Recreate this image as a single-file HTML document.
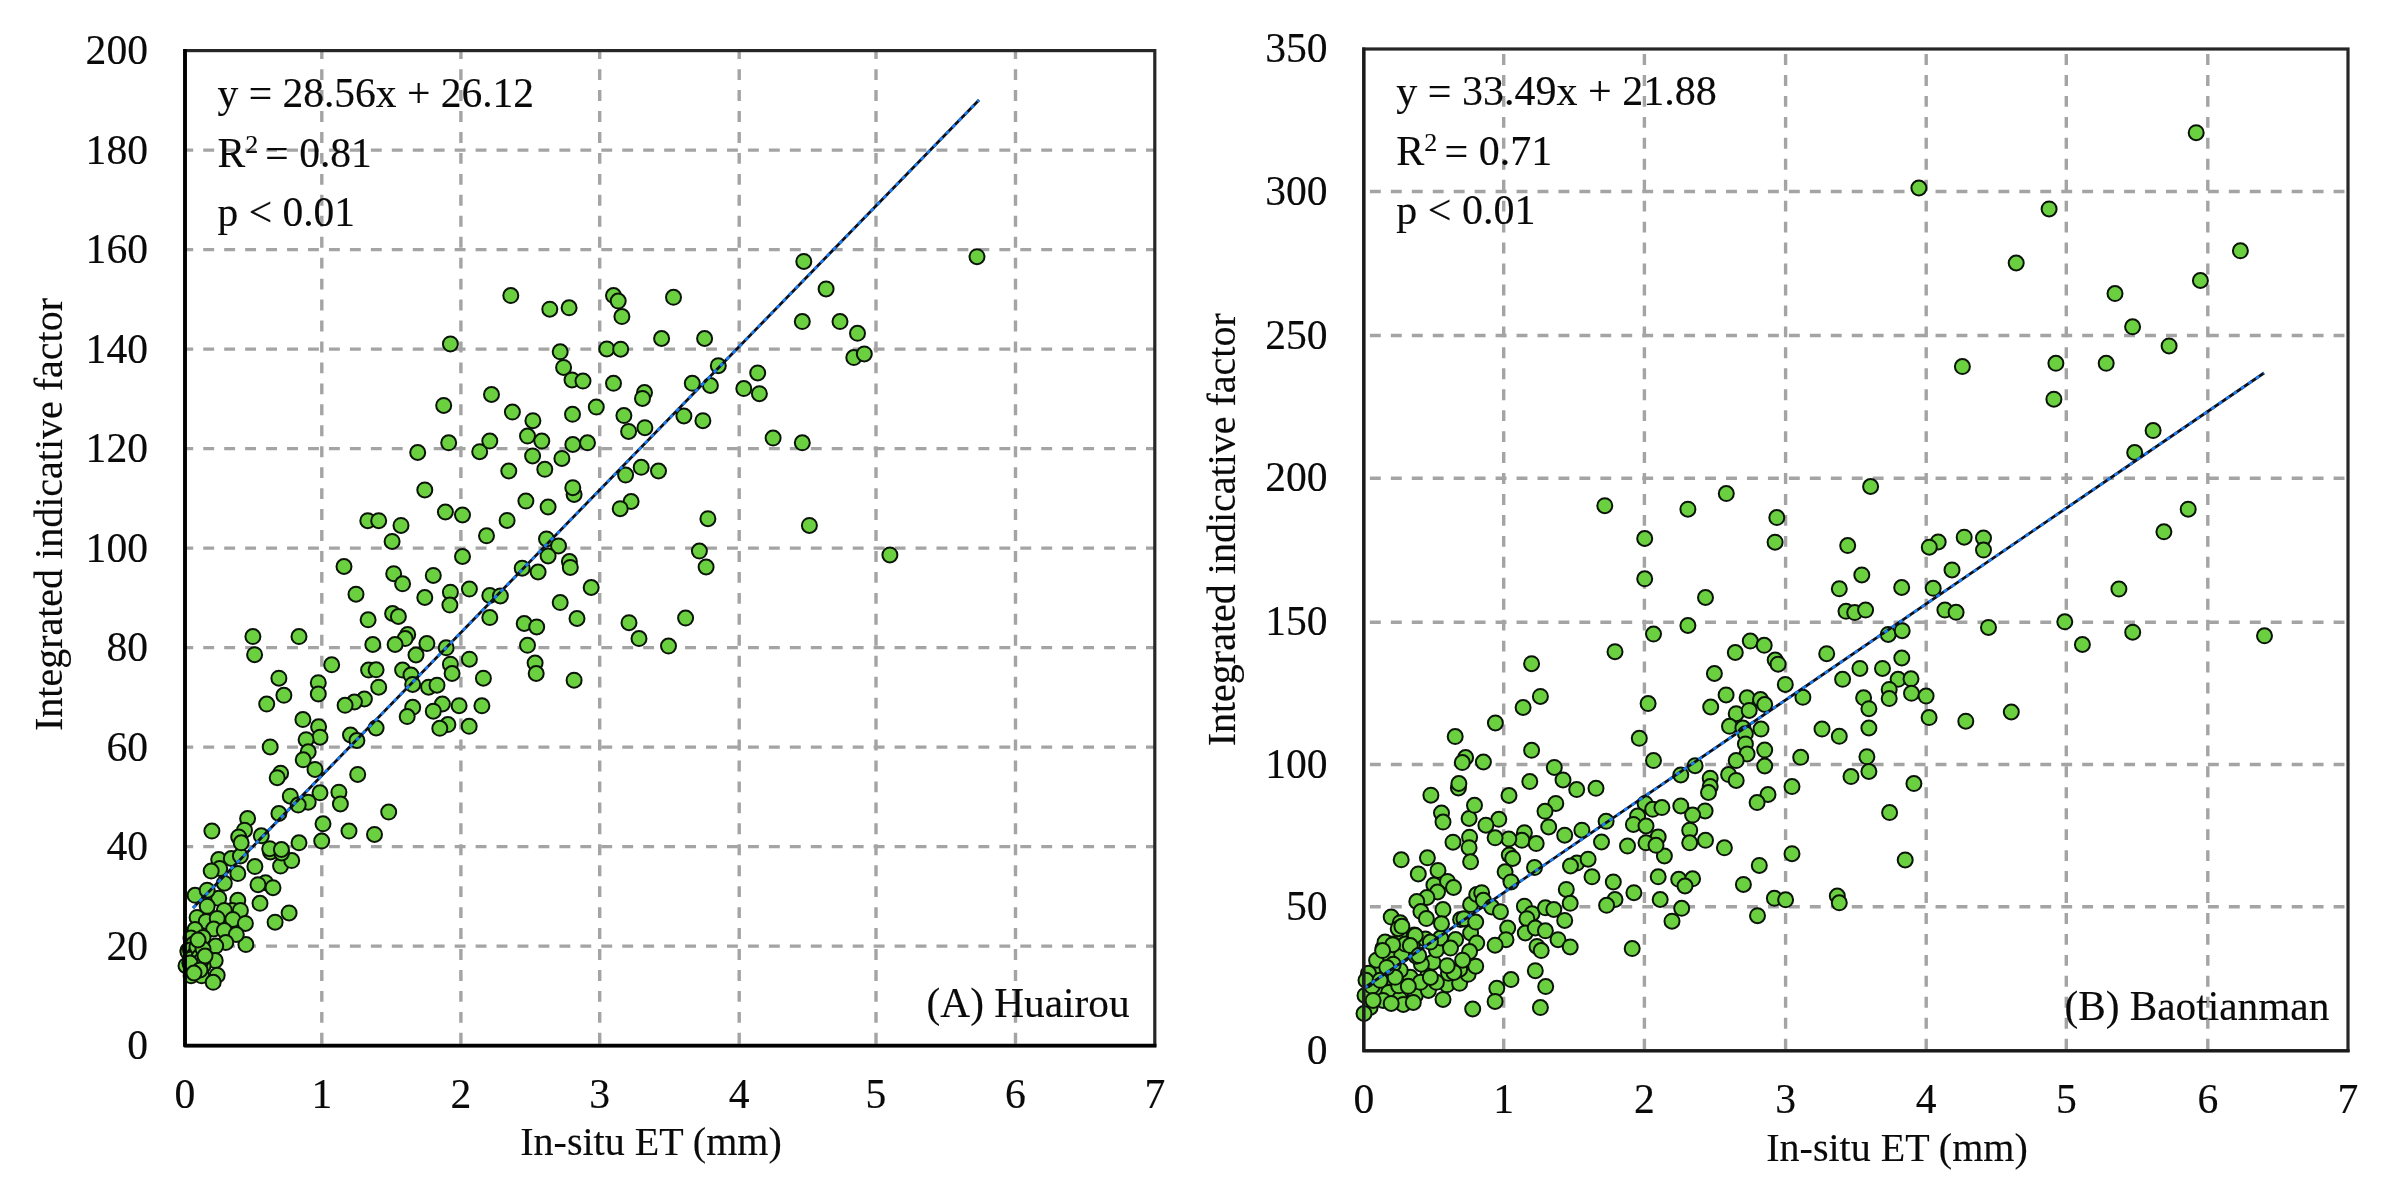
<!DOCTYPE html>
<html><head><meta charset="utf-8"><title>Scatter</title>
<style>
html,body{margin:0;padding:0;background:#fff;}
body{width:2398px;height:1193px;overflow:hidden;}
svg{display:block;}
#wrap{width:2398px;height:1193px;filter:blur(0.7px);}
text{font-family:"Liberation Serif",serif;fill:#0a0a0a;stroke:#0a0a0a;stroke-width:0.15px;}
.tk{font-size:41.6px;}
.eq{font-size:41.6px;}
.ax{font-size:40px;}
.g{stroke:#a4a4a4;stroke-width:3.4;stroke-dasharray:10.9 10.05;fill:none;}
.p circle{fill:#6bd040;stroke:#0a1406;stroke-width:2.0;}
</style></head><body><div id="wrap">
<svg width="2398" height="1193" viewBox="0 0 2398 1193">
<rect width="2398" height="1193" fill="#fff"/>
<path class="g" stroke-dashoffset="2.4" d="M321.8 50.6V1045.6"/>
<path class="g" stroke-dashoffset="2.4" d="M460.9 50.6V1045.6"/>
<path class="g" stroke-dashoffset="2.4" d="M599.7 50.6V1045.6"/>
<path class="g" stroke-dashoffset="2.4" d="M739.2 50.6V1045.6"/>
<path class="g" stroke-dashoffset="2.4" d="M876.0 50.6V1045.6"/>
<path class="g" stroke-dashoffset="2.4" d="M1015.5 50.6V1045.6"/>
<path class="g" stroke-dashoffset="2.7" d="M185.0 946.1H1154.8"/>
<path class="g" stroke-dashoffset="2.7" d="M185.0 846.6H1154.8"/>
<path class="g" stroke-dashoffset="2.7" d="M185.0 747.1H1154.8"/>
<path class="g" stroke-dashoffset="2.7" d="M185.0 647.6H1154.8"/>
<path class="g" stroke-dashoffset="2.7" d="M185.0 548.1H1154.8"/>
<path class="g" stroke-dashoffset="2.7" d="M185.0 448.6H1154.8"/>
<path class="g" stroke-dashoffset="2.7" d="M185.0 349.1H1154.8"/>
<path class="g" stroke-dashoffset="2.7" d="M185.0 249.6H1154.8"/>
<path class="g" stroke-dashoffset="2.7" d="M185.0 150.1H1154.8"/>
<g class="p">
<circle cx="254.9" cy="866.6" r="7.5"/>
<circle cx="265.5" cy="882.7" r="7.5"/>
<circle cx="273.0" cy="887.7" r="7.5"/>
<circle cx="258.0" cy="884.7" r="7.5"/>
<circle cx="260.0" cy="903.3" r="7.5"/>
<circle cx="289.1" cy="912.9" r="7.5"/>
<circle cx="275.1" cy="922.2" r="7.5"/>
<circle cx="245.9" cy="944.6" r="7.5"/>
<circle cx="280.6" cy="866.1" r="7.5"/>
<circle cx="291.7" cy="860.6" r="7.5"/>
<circle cx="270.5" cy="852.0" r="7.5"/>
<circle cx="281.6" cy="853.0" r="7.5"/>
<circle cx="237.8" cy="873.6" r="7.5"/>
<circle cx="224.3" cy="883.2" r="7.5"/>
<circle cx="218.7" cy="859.6" r="7.5"/>
<circle cx="231.3" cy="858.5" r="7.5"/>
<circle cx="219.7" cy="868.6" r="7.5"/>
<circle cx="211.2" cy="871.1" r="7.5"/>
<circle cx="240.4" cy="856.0" r="7.5"/>
<circle cx="195.1" cy="895.3" r="7.5"/>
<circle cx="218.7" cy="898.3" r="7.5"/>
<circle cx="237.8" cy="900.3" r="7.5"/>
<circle cx="207.2" cy="890.2" r="7.5"/>
<circle cx="232.3" cy="910.4" r="7.5"/>
<circle cx="224.3" cy="910.4" r="7.5"/>
<circle cx="240.4" cy="910.4" r="7.5"/>
<circle cx="207.2" cy="906.3" r="7.5"/>
<circle cx="197.1" cy="917.4" r="7.5"/>
<circle cx="206.2" cy="921.4" r="7.5"/>
<circle cx="217.2" cy="918.4" r="7.5"/>
<circle cx="232.8" cy="919.4" r="7.5"/>
<circle cx="245.4" cy="923.4" r="7.5"/>
<circle cx="213.7" cy="929.0" r="7.5"/>
<circle cx="224.3" cy="930.5" r="7.5"/>
<circle cx="195.1" cy="929.5" r="7.5"/>
<circle cx="236.3" cy="934.5" r="7.5"/>
<circle cx="203.1" cy="937.5" r="7.5"/>
<circle cx="225.8" cy="942.5" r="7.5"/>
<circle cx="215.7" cy="946.1" r="7.5"/>
<circle cx="193.1" cy="943.5" r="7.5"/>
<circle cx="188.0" cy="950.6" r="7.5"/>
<circle cx="200.1" cy="952.6" r="7.5"/>
<circle cx="215.2" cy="960.6" r="7.5"/>
<circle cx="192.1" cy="960.6" r="7.5"/>
<circle cx="186.0" cy="965.7" r="7.5"/>
<circle cx="203.1" cy="965.7" r="7.5"/>
<circle cx="191.1" cy="975.8" r="7.5"/>
<circle cx="201.6" cy="975.8" r="7.5"/>
<circle cx="217.2" cy="975.3" r="7.5"/>
<circle cx="213.2" cy="982.3" r="7.5"/>
<circle cx="190.1" cy="963.2" r="7.5"/>
<circle cx="188.0" cy="952.1" r="7.5"/>
<circle cx="200.1" cy="955.1" r="7.5"/>
<circle cx="254.6" cy="654.7" r="7.5"/>
<circle cx="331.7" cy="664.8" r="7.5"/>
<circle cx="278.9" cy="678.2" r="7.5"/>
<circle cx="318.3" cy="682.7" r="7.5"/>
<circle cx="318.3" cy="693.9" r="7.5"/>
<circle cx="283.9" cy="695.3" r="7.5"/>
<circle cx="266.7" cy="704.1" r="7.5"/>
<circle cx="364.4" cy="699.0" r="7.5"/>
<circle cx="354.4" cy="702.0" r="7.5"/>
<circle cx="345.1" cy="705.3" r="7.5"/>
<circle cx="368.6" cy="670.1" r="7.5"/>
<circle cx="376.1" cy="669.8" r="7.5"/>
<circle cx="378.7" cy="687.2" r="7.5"/>
<circle cx="302.9" cy="719.6" r="7.5"/>
<circle cx="318.6" cy="726.8" r="7.5"/>
<circle cx="320.0" cy="737.2" r="7.5"/>
<circle cx="306.1" cy="739.7" r="7.5"/>
<circle cx="308.2" cy="751.8" r="7.5"/>
<circle cx="303.2" cy="759.8" r="7.5"/>
<circle cx="270.2" cy="746.9" r="7.5"/>
<circle cx="350.5" cy="735.0" r="7.5"/>
<circle cx="356.9" cy="740.5" r="7.5"/>
<circle cx="376.1" cy="728.0" r="7.5"/>
<circle cx="315.0" cy="769.4" r="7.5"/>
<circle cx="280.6" cy="773.2" r="7.5"/>
<circle cx="277.2" cy="777.7" r="7.5"/>
<circle cx="357.7" cy="774.4" r="7.5"/>
<circle cx="320.0" cy="792.8" r="7.5"/>
<circle cx="338.9" cy="792.2" r="7.5"/>
<circle cx="340.4" cy="803.9" r="7.5"/>
<circle cx="290.3" cy="796.2" r="7.5"/>
<circle cx="308.2" cy="802.2" r="7.5"/>
<circle cx="298.2" cy="805.1" r="7.5"/>
<circle cx="278.9" cy="813.5" r="7.5"/>
<circle cx="247.6" cy="818.5" r="7.5"/>
<circle cx="323.0" cy="823.8" r="7.5"/>
<circle cx="211.9" cy="831.1" r="7.5"/>
<circle cx="349.0" cy="831.1" r="7.5"/>
<circle cx="374.5" cy="834.4" r="7.5"/>
<circle cx="244.5" cy="830.2" r="7.5"/>
<circle cx="238.7" cy="836.9" r="7.5"/>
<circle cx="241.2" cy="842.8" r="7.5"/>
<circle cx="261.3" cy="835.8" r="7.5"/>
<circle cx="299.0" cy="842.8" r="7.5"/>
<circle cx="321.7" cy="841.1" r="7.5"/>
<circle cx="269.7" cy="848.7" r="7.5"/>
<circle cx="281.4" cy="849.5" r="7.5"/>
<circle cx="416.0" cy="655.0" r="7.5"/>
<circle cx="469.4" cy="659.2" r="7.5"/>
<circle cx="450.4" cy="664.2" r="7.5"/>
<circle cx="452.1" cy="673.5" r="7.5"/>
<circle cx="402.6" cy="670.1" r="7.5"/>
<circle cx="411.0" cy="675.1" r="7.5"/>
<circle cx="412.7" cy="684.4" r="7.5"/>
<circle cx="428.6" cy="687.2" r="7.5"/>
<circle cx="437.0" cy="685.2" r="7.5"/>
<circle cx="483.4" cy="678.2" r="7.5"/>
<circle cx="535.1" cy="663.1" r="7.5"/>
<circle cx="536.2" cy="673.5" r="7.5"/>
<circle cx="574.1" cy="680.2" r="7.5"/>
<circle cx="412.7" cy="707.3" r="7.5"/>
<circle cx="407.2" cy="716.6" r="7.5"/>
<circle cx="442.4" cy="704.0" r="7.5"/>
<circle cx="433.3" cy="711.2" r="7.5"/>
<circle cx="459.1" cy="705.7" r="7.5"/>
<circle cx="481.9" cy="705.8" r="7.5"/>
<circle cx="447.9" cy="724.6" r="7.5"/>
<circle cx="439.8" cy="728.3" r="7.5"/>
<circle cx="469.2" cy="726.3" r="7.5"/>
<circle cx="388.7" cy="812.1" r="7.5"/>
<circle cx="417.7" cy="452.5" r="7.5"/>
<circle cx="479.7" cy="451.7" r="7.5"/>
<circle cx="532.6" cy="455.9" r="7.5"/>
<circle cx="561.9" cy="458.4" r="7.5"/>
<circle cx="544.8" cy="469.3" r="7.5"/>
<circle cx="508.8" cy="471.0" r="7.5"/>
<circle cx="424.8" cy="489.9" r="7.5"/>
<circle cx="574.1" cy="494.4" r="7.5"/>
<circle cx="572.8" cy="487.7" r="7.5"/>
<circle cx="525.9" cy="501.1" r="7.5"/>
<circle cx="548.1" cy="507.0" r="7.5"/>
<circle cx="445.4" cy="512.0" r="7.5"/>
<circle cx="462.5" cy="515.0" r="7.5"/>
<circle cx="507.1" cy="520.4" r="7.5"/>
<circle cx="401.0" cy="525.4" r="7.5"/>
<circle cx="392.1" cy="541.4" r="7.5"/>
<circle cx="486.5" cy="535.8" r="7.5"/>
<circle cx="546.5" cy="538.9" r="7.5"/>
<circle cx="558.5" cy="545.9" r="7.5"/>
<circle cx="548.1" cy="556.0" r="7.5"/>
<circle cx="462.5" cy="556.5" r="7.5"/>
<circle cx="569.4" cy="561.5" r="7.5"/>
<circle cx="570.3" cy="567.4" r="7.5"/>
<circle cx="522.2" cy="568.2" r="7.5"/>
<circle cx="538.1" cy="572.0" r="7.5"/>
<circle cx="393.7" cy="573.7" r="7.5"/>
<circle cx="402.6" cy="583.8" r="7.5"/>
<circle cx="433.3" cy="575.4" r="7.5"/>
<circle cx="469.4" cy="589.1" r="7.5"/>
<circle cx="450.4" cy="592.2" r="7.5"/>
<circle cx="449.9" cy="605.1" r="7.5"/>
<circle cx="424.8" cy="597.5" r="7.5"/>
<circle cx="489.8" cy="595.5" r="7.5"/>
<circle cx="500.4" cy="595.9" r="7.5"/>
<circle cx="560.2" cy="602.6" r="7.5"/>
<circle cx="392.6" cy="613.5" r="7.5"/>
<circle cx="398.4" cy="616.5" r="7.5"/>
<circle cx="489.8" cy="617.6" r="7.5"/>
<circle cx="577.0" cy="618.5" r="7.5"/>
<circle cx="524.2" cy="623.5" r="7.5"/>
<circle cx="536.7" cy="626.9" r="7.5"/>
<circle cx="407.7" cy="634.4" r="7.5"/>
<circle cx="405.1" cy="638.6" r="7.5"/>
<circle cx="426.9" cy="643.6" r="7.5"/>
<circle cx="395.1" cy="644.5" r="7.5"/>
<circle cx="527.5" cy="645.3" r="7.5"/>
<circle cx="446.2" cy="647.8" r="7.5"/>
<circle cx="367.8" cy="520.7" r="7.5"/>
<circle cx="378.7" cy="520.7" r="7.5"/>
<circle cx="344.0" cy="566.5" r="7.5"/>
<circle cx="356.0" cy="594.2" r="7.5"/>
<circle cx="368.1" cy="619.8" r="7.5"/>
<circle cx="252.9" cy="636.6" r="7.5"/>
<circle cx="299.0" cy="636.6" r="7.5"/>
<circle cx="372.8" cy="644.5" r="7.5"/>
<circle cx="510.8" cy="295.6" r="7.5"/>
<circle cx="549.8" cy="309.2" r="7.5"/>
<circle cx="569.1" cy="307.8" r="7.5"/>
<circle cx="450.4" cy="343.9" r="7.5"/>
<circle cx="560.2" cy="351.8" r="7.5"/>
<circle cx="563.6" cy="367.4" r="7.5"/>
<circle cx="572.0" cy="379.9" r="7.5"/>
<circle cx="491.5" cy="394.5" r="7.5"/>
<circle cx="443.7" cy="405.4" r="7.5"/>
<circle cx="512.4" cy="412.1" r="7.5"/>
<circle cx="532.9" cy="420.7" r="7.5"/>
<circle cx="572.5" cy="414.3" r="7.5"/>
<circle cx="527.5" cy="436.1" r="7.5"/>
<circle cx="541.8" cy="441.1" r="7.5"/>
<circle cx="489.8" cy="441.1" r="7.5"/>
<circle cx="448.7" cy="442.8" r="7.5"/>
<circle cx="572.8" cy="444.5" r="7.5"/>
<circle cx="613.5" cy="295.6" r="7.5"/>
<circle cx="618.2" cy="301.1" r="7.5"/>
<circle cx="621.9" cy="316.6" r="7.5"/>
<circle cx="673.5" cy="297.3" r="7.5"/>
<circle cx="661.6" cy="338.5" r="7.5"/>
<circle cx="704.6" cy="338.5" r="7.5"/>
<circle cx="606.8" cy="348.9" r="7.5"/>
<circle cx="620.7" cy="349.2" r="7.5"/>
<circle cx="583.0" cy="381.1" r="7.5"/>
<circle cx="613.5" cy="383.3" r="7.5"/>
<circle cx="718.3" cy="365.7" r="7.5"/>
<circle cx="692.3" cy="383.3" r="7.5"/>
<circle cx="710.4" cy="385.5" r="7.5"/>
<circle cx="757.7" cy="372.9" r="7.5"/>
<circle cx="743.8" cy="388.6" r="7.5"/>
<circle cx="759.4" cy="393.7" r="7.5"/>
<circle cx="644.5" cy="392.5" r="7.5"/>
<circle cx="642.5" cy="398.4" r="7.5"/>
<circle cx="596.3" cy="407.1" r="7.5"/>
<circle cx="623.9" cy="415.6" r="7.5"/>
<circle cx="683.9" cy="416.0" r="7.5"/>
<circle cx="702.9" cy="420.7" r="7.5"/>
<circle cx="644.9" cy="427.7" r="7.5"/>
<circle cx="628.6" cy="431.4" r="7.5"/>
<circle cx="773.1" cy="438.1" r="7.5"/>
<circle cx="587.5" cy="442.8" r="7.5"/>
<circle cx="803.8" cy="261.4" r="7.5"/>
<circle cx="826.1" cy="288.9" r="7.5"/>
<circle cx="802.3" cy="321.6" r="7.5"/>
<circle cx="840.0" cy="321.6" r="7.5"/>
<circle cx="857.5" cy="333.3" r="7.5"/>
<circle cx="853.8" cy="357.6" r="7.5"/>
<circle cx="864.3" cy="353.9" r="7.5"/>
<circle cx="977.0" cy="256.7" r="7.5"/>
<circle cx="802.3" cy="442.8" r="7.5"/>
<circle cx="625.6" cy="475.1" r="7.5"/>
<circle cx="641.2" cy="467.3" r="7.5"/>
<circle cx="658.5" cy="471.0" r="7.5"/>
<circle cx="631.1" cy="501.5" r="7.5"/>
<circle cx="620.2" cy="508.7" r="7.5"/>
<circle cx="707.9" cy="518.7" r="7.5"/>
<circle cx="699.4" cy="551.1" r="7.5"/>
<circle cx="706.1" cy="567.0" r="7.5"/>
<circle cx="591.2" cy="587.5" r="7.5"/>
<circle cx="685.6" cy="618.1" r="7.5"/>
<circle cx="629.0" cy="622.7" r="7.5"/>
<circle cx="639.0" cy="638.6" r="7.5"/>
<circle cx="668.5" cy="646.1" r="7.5"/>
<circle cx="809.4" cy="525.4" r="7.5"/>
<circle cx="889.9" cy="554.9" r="7.5"/>
<circle cx="191.0" cy="938.0" r="7.5"/>
<circle cx="193.5" cy="944.0" r="7.5"/>
<circle cx="190.5" cy="950.0" r="7.5"/>
<circle cx="195.0" cy="954.0" r="7.5"/>
<circle cx="191.0" cy="959.0" r="7.5"/>
<circle cx="197.0" cy="947.0" r="7.5"/>
<circle cx="199.0" cy="957.0" r="7.5"/>
<circle cx="196.0" cy="964.0" r="7.5"/>
<circle cx="192.0" cy="969.0" r="7.5"/>
<circle cx="201.0" cy="961.0" r="7.5"/>
<circle cx="203.0" cy="949.0" r="7.5"/>
<circle cx="205.0" cy="956.0" r="7.5"/>
<circle cx="190.0" cy="963.0" r="7.5"/>
<circle cx="200.0" cy="970.0" r="7.5"/>
<circle cx="194.0" cy="973.0" r="7.5"/>
<circle cx="198.0" cy="940.0" r="7.5"/>
</g>
<path d="M193.0 908.0L979.0 100.0" stroke="#0b0f1c" stroke-width="2.8" fill="none"/>
<path d="M193.0 908.0L979.0 100.0" stroke="#1c7cf0" stroke-width="2.8" stroke-dasharray="4 5" fill="none"/>
<rect x="185.0" y="50.6" width="969.8" height="995.0" fill="none" stroke="#262626" stroke-width="3.2"/>
<path d="M185.0 49.0V1045.6H1156.4" fill="none" stroke="#000" stroke-width="3.8" stroke-linejoin="round"/>
<text class="tk" x="185.0" y="1107.6" text-anchor="middle">0</text>
<text class="tk" x="321.8" y="1107.6" text-anchor="middle">1</text>
<text class="tk" x="460.9" y="1107.6" text-anchor="middle">2</text>
<text class="tk" x="599.7" y="1107.6" text-anchor="middle">3</text>
<text class="tk" x="739.2" y="1107.6" text-anchor="middle">4</text>
<text class="tk" x="876.0" y="1107.6" text-anchor="middle">5</text>
<text class="tk" x="1015.5" y="1107.6" text-anchor="middle">6</text>
<text class="tk" x="1154.8" y="1107.6" text-anchor="middle">7</text>
<text class="tk" x="148.0" y="1059.1" text-anchor="end">0</text>
<text class="tk" x="148.0" y="959.6" text-anchor="end">20</text>
<text class="tk" x="148.0" y="860.1" text-anchor="end">40</text>
<text class="tk" x="148.0" y="760.6" text-anchor="end">60</text>
<text class="tk" x="148.0" y="661.1" text-anchor="end">80</text>
<text class="tk" x="148.0" y="561.6" text-anchor="end">100</text>
<text class="tk" x="148.0" y="462.1" text-anchor="end">120</text>
<text class="tk" x="148.0" y="362.6" text-anchor="end">140</text>
<text class="tk" x="148.0" y="263.1" text-anchor="end">160</text>
<text class="tk" x="148.0" y="163.6" text-anchor="end">180</text>
<text class="tk" x="148.0" y="64.1" text-anchor="end">200</text>
<text class="eq" style="font-size:41.5px" x="217.5" y="106.6">y = 28.56x + 26.12</text>
<text class="eq" style="font-size:41.5px" x="217.5" y="166.6">R<tspan dy="-14" font-size="26">2</tspan><tspan dy="14" dx="-3.2"> = 0.81</tspan></text>
<text class="eq" style="font-size:41.5px" x="217.5" y="225.6">p &lt; 0.01</text>
<text class="eq" style="font-size:41.3px" x="1129.6" y="1017.0" text-anchor="end">(A) Huairou</text>
<text class="ax" transform="translate(61.5 514.5) rotate(-90)" text-anchor="middle">Integrated indicative factor</text>
<text class="ax" x="651.0" y="1155.0" text-anchor="middle">In-situ ET (mm)</text>
<path class="g" stroke-dashoffset="19.75" d="M1503.7 1050.8V49.0"/>
<path class="g" stroke-dashoffset="19.75" d="M1644.4 1050.8V49.0"/>
<path class="g" stroke-dashoffset="19.75" d="M1785.6 1050.8V49.0"/>
<path class="g" stroke-dashoffset="19.75" d="M1926.2 1050.8V49.0"/>
<path class="g" stroke-dashoffset="19.75" d="M2066.3 1050.8V49.0"/>
<path class="g" stroke-dashoffset="19.75" d="M2207.8 1050.8V49.0"/>
<path class="g" stroke-dashoffset="17.45" d="M2348.0 906.8H1363.8"/>
<path class="g" stroke-dashoffset="17.45" d="M2348.0 764.5H1363.8"/>
<path class="g" stroke-dashoffset="17.45" d="M2348.0 622.3H1363.8"/>
<path class="g" stroke-dashoffset="17.45" d="M2348.0 478.2H1363.8"/>
<path class="g" stroke-dashoffset="17.45" d="M2348.0 335.5H1363.8"/>
<path class="g" stroke-dashoffset="17.45" d="M2348.0 191.5H1363.8"/>
<g class="p">
<circle cx="1370.1" cy="1007.5" r="7.5"/>
<circle cx="1364.0" cy="1013.5" r="7.5"/>
<circle cx="1365.0" cy="995.4" r="7.5"/>
<circle cx="1377.6" cy="993.4" r="7.5"/>
<circle cx="1388.7" cy="992.4" r="7.5"/>
<circle cx="1399.7" cy="998.9" r="7.5"/>
<circle cx="1415.3" cy="995.4" r="7.5"/>
<circle cx="1403.3" cy="1004.4" r="7.5"/>
<circle cx="1413.3" cy="1002.4" r="7.5"/>
<circle cx="1443.0" cy="999.4" r="7.5"/>
<circle cx="1472.7" cy="1009.0" r="7.5"/>
<circle cx="1428.4" cy="990.4" r="7.5"/>
<circle cx="1398.7" cy="985.8" r="7.5"/>
<circle cx="1447.0" cy="984.8" r="7.5"/>
<circle cx="1459.6" cy="983.3" r="7.5"/>
<circle cx="1468.1" cy="974.3" r="7.5"/>
<circle cx="1459.6" cy="969.2" r="7.5"/>
<circle cx="1475.7" cy="966.2" r="7.5"/>
<circle cx="1448.5" cy="973.3" r="7.5"/>
<circle cx="1427.9" cy="974.8" r="7.5"/>
<circle cx="1389.2" cy="977.3" r="7.5"/>
<circle cx="1377.6" cy="972.2" r="7.5"/>
<circle cx="1368.5" cy="973.3" r="7.5"/>
<circle cx="1376.6" cy="960.2" r="7.5"/>
<circle cx="1389.2" cy="955.1" r="7.5"/>
<circle cx="1401.7" cy="955.1" r="7.5"/>
<circle cx="1432.9" cy="962.2" r="7.5"/>
<circle cx="1421.4" cy="964.2" r="7.5"/>
<circle cx="1410.3" cy="977.3" r="7.5"/>
<circle cx="1436.4" cy="950.1" r="7.5"/>
<circle cx="1412.3" cy="946.1" r="7.5"/>
<circle cx="1401.7" cy="938.0" r="7.5"/>
<circle cx="1392.2" cy="944.1" r="7.5"/>
<circle cx="1414.3" cy="935.0" r="7.5"/>
<circle cx="1455.6" cy="939.6" r="7.5"/>
<circle cx="1470.6" cy="933.0" r="7.5"/>
<circle cx="1476.7" cy="943.1" r="7.5"/>
<circle cx="1469.6" cy="951.6" r="7.5"/>
<circle cx="1383.1" cy="948.1" r="7.5"/>
<circle cx="1425.4" cy="939.1" r="7.5"/>
<circle cx="1440.5" cy="938.0" r="7.5"/>
<circle cx="1441.5" cy="813.0" r="7.5"/>
<circle cx="1443.0" cy="822.1" r="7.5"/>
<circle cx="1469.1" cy="818.5" r="7.5"/>
<circle cx="1453.0" cy="842.2" r="7.5"/>
<circle cx="1469.6" cy="837.2" r="7.5"/>
<circle cx="1469.1" cy="847.7" r="7.5"/>
<circle cx="1470.6" cy="861.8" r="7.5"/>
<circle cx="1401.2" cy="859.8" r="7.5"/>
<circle cx="1427.4" cy="857.8" r="7.5"/>
<circle cx="1438.0" cy="870.4" r="7.5"/>
<circle cx="1418.3" cy="873.9" r="7.5"/>
<circle cx="1433.9" cy="884.9" r="7.5"/>
<circle cx="1447.5" cy="881.4" r="7.5"/>
<circle cx="1453.5" cy="887.5" r="7.5"/>
<circle cx="1437.5" cy="892.0" r="7.5"/>
<circle cx="1426.9" cy="897.5" r="7.5"/>
<circle cx="1416.8" cy="901.5" r="7.5"/>
<circle cx="1420.9" cy="911.6" r="7.5"/>
<circle cx="1443.0" cy="909.6" r="7.5"/>
<circle cx="1426.4" cy="918.6" r="7.5"/>
<circle cx="1391.2" cy="917.1" r="7.5"/>
<circle cx="1400.2" cy="922.7" r="7.5"/>
<circle cx="1441.5" cy="923.7" r="7.5"/>
<circle cx="1470.6" cy="904.6" r="7.5"/>
<circle cx="1476.7" cy="894.5" r="7.5"/>
<circle cx="1398.2" cy="928.7" r="7.5"/>
<circle cx="1460.6" cy="919.6" r="7.5"/>
<circle cx="1509.3" cy="855.0" r="7.5"/>
<circle cx="1512.7" cy="858.4" r="7.5"/>
<circle cx="1505.1" cy="871.8" r="7.5"/>
<circle cx="1511.0" cy="881.9" r="7.5"/>
<circle cx="1534.5" cy="867.6" r="7.5"/>
<circle cx="1576.9" cy="863.1" r="7.5"/>
<circle cx="1570.5" cy="865.9" r="7.5"/>
<circle cx="1588.1" cy="859.2" r="7.5"/>
<circle cx="1592.0" cy="876.8" r="7.5"/>
<circle cx="1613.3" cy="881.9" r="7.5"/>
<circle cx="1566.3" cy="889.4" r="7.5"/>
<circle cx="1570.2" cy="903.3" r="7.5"/>
<circle cx="1615.0" cy="899.5" r="7.5"/>
<circle cx="1606.6" cy="905.3" r="7.5"/>
<circle cx="1633.9" cy="892.7" r="7.5"/>
<circle cx="1658.2" cy="876.8" r="7.5"/>
<circle cx="1660.2" cy="899.5" r="7.5"/>
<circle cx="1664.4" cy="855.9" r="7.5"/>
<circle cx="1678.7" cy="879.3" r="7.5"/>
<circle cx="1672.0" cy="921.2" r="7.5"/>
<circle cx="1481.7" cy="892.7" r="7.5"/>
<circle cx="1483.4" cy="900.3" r="7.5"/>
<circle cx="1491.7" cy="907.0" r="7.5"/>
<circle cx="1500.5" cy="911.7" r="7.5"/>
<circle cx="1524.4" cy="906.2" r="7.5"/>
<circle cx="1532.0" cy="913.7" r="7.5"/>
<circle cx="1526.9" cy="918.7" r="7.5"/>
<circle cx="1545.4" cy="907.8" r="7.5"/>
<circle cx="1553.8" cy="909.5" r="7.5"/>
<circle cx="1564.7" cy="920.4" r="7.5"/>
<circle cx="1507.7" cy="928.0" r="7.5"/>
<circle cx="1525.3" cy="933.0" r="7.5"/>
<circle cx="1535.3" cy="928.0" r="7.5"/>
<circle cx="1545.4" cy="930.8" r="7.5"/>
<circle cx="1506.0" cy="939.7" r="7.5"/>
<circle cx="1495.1" cy="945.2" r="7.5"/>
<circle cx="1558.0" cy="939.7" r="7.5"/>
<circle cx="1570.2" cy="946.9" r="7.5"/>
<circle cx="1537.0" cy="946.4" r="7.5"/>
<circle cx="1541.2" cy="950.6" r="7.5"/>
<circle cx="1632.2" cy="948.6" r="7.5"/>
<circle cx="1535.3" cy="970.7" r="7.5"/>
<circle cx="1511.0" cy="979.6" r="7.5"/>
<circle cx="1496.8" cy="988.3" r="7.5"/>
<circle cx="1545.7" cy="986.6" r="7.5"/>
<circle cx="1495.1" cy="1001.4" r="7.5"/>
<circle cx="1540.4" cy="1007.6" r="7.5"/>
<circle cx="1531.6" cy="663.7" r="7.5"/>
<circle cx="1615.0" cy="651.7" r="7.5"/>
<circle cx="1540.4" cy="696.4" r="7.5"/>
<circle cx="1523.1" cy="707.5" r="7.5"/>
<circle cx="1495.4" cy="722.9" r="7.5"/>
<circle cx="1648.1" cy="703.6" r="7.5"/>
<circle cx="1639.3" cy="738.3" r="7.5"/>
<circle cx="1531.6" cy="750.3" r="7.5"/>
<circle cx="1483.4" cy="762.0" r="7.5"/>
<circle cx="1653.5" cy="760.6" r="7.5"/>
<circle cx="1554.3" cy="767.4" r="7.5"/>
<circle cx="1563.0" cy="779.9" r="7.5"/>
<circle cx="1576.7" cy="789.6" r="7.5"/>
<circle cx="1596.0" cy="788.3" r="7.5"/>
<circle cx="1529.8" cy="781.6" r="7.5"/>
<circle cx="1509.0" cy="795.5" r="7.5"/>
<circle cx="1555.8" cy="803.4" r="7.5"/>
<circle cx="1545.0" cy="811.3" r="7.5"/>
<circle cx="1498.8" cy="819.3" r="7.5"/>
<circle cx="1485.9" cy="825.2" r="7.5"/>
<circle cx="1548.7" cy="826.9" r="7.5"/>
<circle cx="1564.7" cy="835.2" r="7.5"/>
<circle cx="1581.9" cy="830.2" r="7.5"/>
<circle cx="1606.1" cy="821.3" r="7.5"/>
<circle cx="1601.5" cy="842.0" r="7.5"/>
<circle cx="1524.4" cy="832.7" r="7.5"/>
<circle cx="1521.9" cy="840.3" r="7.5"/>
<circle cx="1508.8" cy="839.1" r="7.5"/>
<circle cx="1495.1" cy="837.8" r="7.5"/>
<circle cx="1536.2" cy="843.6" r="7.5"/>
<circle cx="1627.5" cy="846.1" r="7.5"/>
<circle cx="1645.1" cy="803.4" r="7.5"/>
<circle cx="1652.7" cy="809.3" r="7.5"/>
<circle cx="1661.9" cy="807.6" r="7.5"/>
<circle cx="1637.6" cy="816.0" r="7.5"/>
<circle cx="1633.4" cy="824.4" r="7.5"/>
<circle cx="1646.0" cy="826.0" r="7.5"/>
<circle cx="1658.2" cy="836.9" r="7.5"/>
<circle cx="1646.0" cy="842.8" r="7.5"/>
<circle cx="1656.0" cy="845.3" r="7.5"/>
<circle cx="1455.2" cy="736.6" r="7.5"/>
<circle cx="1465.6" cy="757.5" r="7.5"/>
<circle cx="1462.3" cy="762.6" r="7.5"/>
<circle cx="1458.4" cy="788.0" r="7.5"/>
<circle cx="1458.9" cy="783.5" r="7.5"/>
<circle cx="1430.9" cy="795.2" r="7.5"/>
<circle cx="1474.5" cy="805.3" r="7.5"/>
<circle cx="1792.0" cy="853.7" r="7.5"/>
<circle cx="1759.3" cy="865.4" r="7.5"/>
<circle cx="1692.6" cy="878.8" r="7.5"/>
<circle cx="1685.0" cy="886.0" r="7.5"/>
<circle cx="1743.4" cy="884.4" r="7.5"/>
<circle cx="1774.4" cy="898.3" r="7.5"/>
<circle cx="1785.6" cy="899.8" r="7.5"/>
<circle cx="1837.3" cy="896.1" r="7.5"/>
<circle cx="1839.3" cy="902.8" r="7.5"/>
<circle cx="1757.5" cy="915.7" r="7.5"/>
<circle cx="1681.7" cy="908.3" r="7.5"/>
<circle cx="1735.3" cy="652.5" r="7.5"/>
<circle cx="1775.2" cy="660.1" r="7.5"/>
<circle cx="1778.1" cy="664.2" r="7.5"/>
<circle cx="1826.7" cy="653.7" r="7.5"/>
<circle cx="1859.9" cy="668.4" r="7.5"/>
<circle cx="1842.6" cy="679.3" r="7.5"/>
<circle cx="1714.4" cy="673.5" r="7.5"/>
<circle cx="1785.3" cy="684.4" r="7.5"/>
<circle cx="1802.9" cy="697.3" r="7.5"/>
<circle cx="1726.1" cy="694.9" r="7.5"/>
<circle cx="1710.7" cy="707.0" r="7.5"/>
<circle cx="1747.1" cy="697.8" r="7.5"/>
<circle cx="1760.5" cy="699.5" r="7.5"/>
<circle cx="1764.7" cy="704.5" r="7.5"/>
<circle cx="1736.2" cy="713.7" r="7.5"/>
<circle cx="1749.2" cy="710.4" r="7.5"/>
<circle cx="1729.5" cy="726.3" r="7.5"/>
<circle cx="1742.9" cy="728.0" r="7.5"/>
<circle cx="1761.0" cy="729.1" r="7.5"/>
<circle cx="1745.4" cy="733.8" r="7.5"/>
<circle cx="1745.4" cy="743.9" r="7.5"/>
<circle cx="1747.1" cy="753.9" r="7.5"/>
<circle cx="1764.7" cy="750.1" r="7.5"/>
<circle cx="1736.2" cy="760.6" r="7.5"/>
<circle cx="1764.7" cy="766.0" r="7.5"/>
<circle cx="1800.7" cy="757.3" r="7.5"/>
<circle cx="1822.0" cy="729.1" r="7.5"/>
<circle cx="1839.3" cy="736.3" r="7.5"/>
<circle cx="1863.6" cy="697.8" r="7.5"/>
<circle cx="1868.9" cy="708.7" r="7.5"/>
<circle cx="1868.9" cy="728.0" r="7.5"/>
<circle cx="1866.9" cy="756.8" r="7.5"/>
<circle cx="1868.9" cy="771.5" r="7.5"/>
<circle cx="1851.0" cy="776.6" r="7.5"/>
<circle cx="1695.1" cy="765.7" r="7.5"/>
<circle cx="1680.8" cy="774.9" r="7.5"/>
<circle cx="1710.2" cy="778.2" r="7.5"/>
<circle cx="1710.2" cy="786.6" r="7.5"/>
<circle cx="1708.5" cy="792.5" r="7.5"/>
<circle cx="1728.6" cy="774.6" r="7.5"/>
<circle cx="1736.2" cy="780.4" r="7.5"/>
<circle cx="1792.0" cy="786.6" r="7.5"/>
<circle cx="1768.0" cy="794.5" r="7.5"/>
<circle cx="1757.1" cy="802.6" r="7.5"/>
<circle cx="1680.8" cy="805.9" r="7.5"/>
<circle cx="1705.1" cy="810.9" r="7.5"/>
<circle cx="1692.6" cy="815.1" r="7.5"/>
<circle cx="1689.7" cy="830.2" r="7.5"/>
<circle cx="1689.7" cy="842.8" r="7.5"/>
<circle cx="1705.5" cy="840.3" r="7.5"/>
<circle cx="1724.4" cy="847.8" r="7.5"/>
<circle cx="1901.8" cy="658.0" r="7.5"/>
<circle cx="1882.5" cy="668.4" r="7.5"/>
<circle cx="1898.1" cy="679.3" r="7.5"/>
<circle cx="1911.0" cy="678.8" r="7.5"/>
<circle cx="1889.2" cy="689.4" r="7.5"/>
<circle cx="1889.2" cy="698.6" r="7.5"/>
<circle cx="1911.5" cy="693.3" r="7.5"/>
<circle cx="1926.1" cy="696.1" r="7.5"/>
<circle cx="1929.1" cy="717.6" r="7.5"/>
<circle cx="1965.8" cy="721.2" r="7.5"/>
<circle cx="2011.3" cy="712.0" r="7.5"/>
<circle cx="1913.9" cy="783.6" r="7.5"/>
<circle cx="1889.6" cy="812.6" r="7.5"/>
<circle cx="1905.2" cy="859.9" r="7.5"/>
<circle cx="1604.8" cy="505.7" r="7.5"/>
<circle cx="1687.9" cy="509.2" r="7.5"/>
<circle cx="1726.3" cy="493.6" r="7.5"/>
<circle cx="1644.7" cy="538.5" r="7.5"/>
<circle cx="1644.7" cy="578.8" r="7.5"/>
<circle cx="1705.5" cy="597.5" r="7.5"/>
<circle cx="1687.9" cy="625.5" r="7.5"/>
<circle cx="1653.5" cy="634.1" r="7.5"/>
<circle cx="1750.3" cy="641.1" r="7.5"/>
<circle cx="1870.6" cy="486.5" r="7.5"/>
<circle cx="1776.8" cy="517.6" r="7.5"/>
<circle cx="1775.1" cy="542.2" r="7.5"/>
<circle cx="1847.7" cy="545.6" r="7.5"/>
<circle cx="1861.8" cy="574.9" r="7.5"/>
<circle cx="1839.3" cy="588.8" r="7.5"/>
<circle cx="1901.7" cy="587.5" r="7.5"/>
<circle cx="1846.0" cy="611.3" r="7.5"/>
<circle cx="1854.7" cy="612.6" r="7.5"/>
<circle cx="1865.6" cy="610.1" r="7.5"/>
<circle cx="1938.2" cy="541.9" r="7.5"/>
<circle cx="1929.3" cy="547.2" r="7.5"/>
<circle cx="1952.0" cy="569.9" r="7.5"/>
<circle cx="1933.2" cy="588.3" r="7.5"/>
<circle cx="1944.9" cy="610.1" r="7.5"/>
<circle cx="1956.1" cy="612.3" r="7.5"/>
<circle cx="1888.2" cy="634.4" r="7.5"/>
<circle cx="1902.2" cy="630.7" r="7.5"/>
<circle cx="1764.2" cy="645.3" r="7.5"/>
<circle cx="1964.2" cy="537.2" r="7.5"/>
<circle cx="1983.5" cy="538.0" r="7.5"/>
<circle cx="1983.5" cy="550.1" r="7.5"/>
<circle cx="2134.7" cy="452.5" r="7.5"/>
<circle cx="2118.9" cy="589.1" r="7.5"/>
<circle cx="1988.5" cy="627.4" r="7.5"/>
<circle cx="2064.8" cy="621.8" r="7.5"/>
<circle cx="2132.7" cy="632.2" r="7.5"/>
<circle cx="2082.4" cy="644.5" r="7.5"/>
<circle cx="2188.2" cy="509.2" r="7.5"/>
<circle cx="2163.9" cy="531.8" r="7.5"/>
<circle cx="2264.5" cy="635.8" r="7.5"/>
<circle cx="1918.9" cy="188.0" r="7.5"/>
<circle cx="2049.1" cy="208.9" r="7.5"/>
<circle cx="2016.2" cy="263.0" r="7.5"/>
<circle cx="2115.0" cy="293.6" r="7.5"/>
<circle cx="2132.6" cy="326.8" r="7.5"/>
<circle cx="2169.1" cy="345.9" r="7.5"/>
<circle cx="2106.2" cy="363.3" r="7.5"/>
<circle cx="2055.9" cy="363.3" r="7.5"/>
<circle cx="1962.4" cy="366.6" r="7.5"/>
<circle cx="2196.2" cy="132.7" r="7.5"/>
<circle cx="2053.9" cy="399.2" r="7.5"/>
<circle cx="2240.4" cy="250.8" r="7.5"/>
<circle cx="2200.4" cy="280.5" r="7.5"/>
<circle cx="2153.1" cy="430.6" r="7.5"/>
<circle cx="1400.2" cy="970.2" r="7.5"/>
<circle cx="1416.3" cy="956.2" r="7.5"/>
<circle cx="1393.2" cy="964.2" r="7.5"/>
<circle cx="1436.4" cy="982.3" r="7.5"/>
<circle cx="1405.3" cy="944.1" r="7.5"/>
<circle cx="1385.1" cy="942.1" r="7.5"/>
<circle cx="1372.1" cy="986.3" r="7.5"/>
<circle cx="1366.0" cy="980.3" r="7.5"/>
<circle cx="1383.1" cy="1000.4" r="7.5"/>
<circle cx="1391.2" cy="1003.4" r="7.5"/>
<circle cx="1373.1" cy="1000.4" r="7.5"/>
<circle cx="1420.4" cy="982.3" r="7.5"/>
<circle cx="1408.3" cy="986.3" r="7.5"/>
<circle cx="1380.1" cy="980.3" r="7.5"/>
<circle cx="1395.2" cy="977.3" r="7.5"/>
<circle cx="1450.5" cy="948.1" r="7.5"/>
<circle cx="1462.6" cy="960.2" r="7.5"/>
<circle cx="1430.4" cy="942.1" r="7.5"/>
<circle cx="1415.3" cy="935.5" r="7.5"/>
<circle cx="1392.7" cy="944.7" r="7.5"/>
<circle cx="1410.3" cy="945.6" r="7.5"/>
<circle cx="1382.6" cy="950.6" r="7.5"/>
<circle cx="1418.7" cy="955.6" r="7.5"/>
<circle cx="1463.9" cy="918.7" r="7.5"/>
<circle cx="1401.9" cy="926.3" r="7.5"/>
<circle cx="1475.7" cy="922.1" r="7.5"/>
<circle cx="1453.9" cy="972.4" r="7.5"/>
<circle cx="1447.2" cy="965.7" r="7.5"/>
<circle cx="1430.4" cy="977.4" r="7.5"/>
<circle cx="1386.8" cy="967.4" r="7.5"/>
</g>
<path d="M1364.2 988.0L2264.0 373.0" stroke="#0b0f1c" stroke-width="2.8" fill="none"/>
<path d="M1364.2 988.0L2264.0 373.0" stroke="#1c7cf0" stroke-width="2.8" stroke-dasharray="4 5" fill="none"/>
<rect x="1363.8" y="49.0" width="984.2" height="1001.8" fill="none" stroke="#262626" stroke-width="3.2"/>
<path d="M1363.8 47.4V1050.8H2349.6" fill="none" stroke="#1a1a1a" stroke-width="3.1" stroke-linejoin="round"/>
<text class="tk" x="1363.8" y="1112.8" text-anchor="middle">0</text>
<text class="tk" x="1503.7" y="1112.8" text-anchor="middle">1</text>
<text class="tk" x="1644.4" y="1112.8" text-anchor="middle">2</text>
<text class="tk" x="1785.6" y="1112.8" text-anchor="middle">3</text>
<text class="tk" x="1926.2" y="1112.8" text-anchor="middle">4</text>
<text class="tk" x="2066.3" y="1112.8" text-anchor="middle">5</text>
<text class="tk" x="2207.8" y="1112.8" text-anchor="middle">6</text>
<text class="tk" x="2348.0" y="1112.8" text-anchor="middle">7</text>
<text class="tk" x="1327.6" y="1063.8" text-anchor="end">0</text>
<text class="tk" x="1327.6" y="919.8" text-anchor="end">50</text>
<text class="tk" x="1327.6" y="777.5" text-anchor="end">100</text>
<text class="tk" x="1327.6" y="635.3" text-anchor="end">150</text>
<text class="tk" x="1327.6" y="491.2" text-anchor="end">200</text>
<text class="tk" x="1327.6" y="348.5" text-anchor="end">250</text>
<text class="tk" x="1327.6" y="204.5" text-anchor="end">300</text>
<text class="tk" x="1327.6" y="62.0" text-anchor="end">350</text>
<text class="eq" style="font-size:42.0px" x="1396.3" y="105.0">y = 33.49x + 21.88</text>
<text class="eq" style="font-size:42.0px" x="1396.3" y="165.0">R<tspan dy="-14" font-size="26">2</tspan><tspan dy="14" dx="-3.2"> = 0.71</tspan></text>
<text class="eq" style="font-size:42.0px" x="1396.3" y="224.0">p &lt; 0.01</text>
<text class="eq" style="font-size:41.3px" x="2329.3" y="1020.3" text-anchor="end">(B) Baotianman</text>
<text class="ax" transform="translate(1235.0 529.8) rotate(-90)" text-anchor="middle">Integrated indicative factor</text>
<text class="ax" x="1897.0" y="1161.0" text-anchor="middle">In-situ ET (mm)</text>
</svg></div></body></html>
